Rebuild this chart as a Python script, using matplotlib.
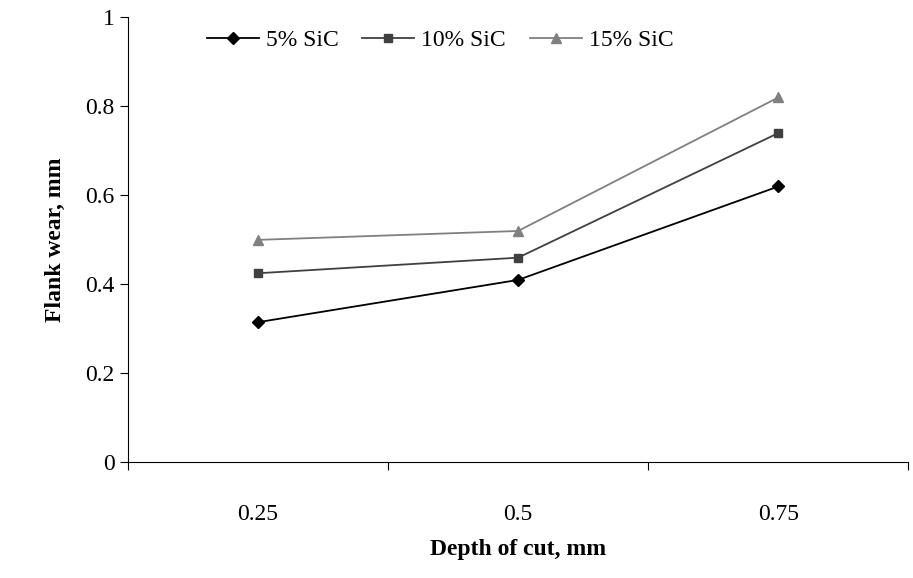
import matplotlib.pyplot as plt

plt.rcParams['font.family'] = ['Liberation Serif', 'DejaVu Serif']

depths = ['0.25', '0.5', '0.75']
sic5 = [0.315, 0.41, 0.62]
sic10 = [0.425, 0.46, 0.74]
sic15 = [0.50, 0.52, 0.82]

fig = plt.figure(figsize=(9.13, 5.78), dpi=100)
ax = fig.add_axes([0.14, 0.2, 0.855, 0.77])

x = range(len(depths))
ax.plot(x, sic5, color='black', marker='D', markersize=6, lw=1.3, label='5% SiC')
ax.plot(x, sic10, color='#404040', marker='s', markersize=6, lw=1.3, label='10% SiC')
ax.plot(x, sic15, color='#808080', marker='^', markersize=7, lw=1.3, label='15% SiC')

ax.set_xlim(-0.5, 2.5)
ax.set_ylim(0, 1)
ax.set_yticks([0, 0.2, 0.4, 0.6, 0.8, 1])
ax.set_yticklabels(['0', '0.2', '0.4', '0.6', '0.8', '1'])
ax.set_xticks([-0.5, 0.5, 1.5, 2.5])
ax.set_xticklabels([])
ax.set_xticks(list(x), minor=True)
ax.set_xticklabels(depths, minor=True)
ax.tick_params(axis='x', which='minor', length=0, pad=30, labelsize=17)
ax.tick_params(axis='x', which='major', length=6, direction='out')
ax.tick_params(axis='y', length=6, direction='out', labelsize=17)
ax.spines['top'].set_visible(False)
ax.spines['right'].set_visible(False)

ax.set_xlabel('Depth of cut, mm', fontsize=17, fontweight='bold', labelpad=10)
ax.set_ylabel('Flank wear, mm', fontsize=17, fontweight='bold', labelpad=14)

ax.legend(loc='upper center', ncol=3, frameon=False, fontsize=17,
          bbox_to_anchor=(0.4, 1.02), handlelength=2.2, handletextpad=0.3,
          columnspacing=1.0)

fig.savefig('out.png')
